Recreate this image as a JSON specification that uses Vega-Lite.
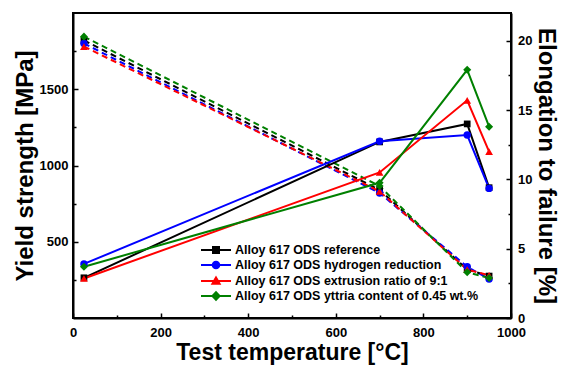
{
  "$schema": "https://vega.github.io/schema/vega-lite/v6.json",
  "width": 438,
  "height": 305,
  "autosize": {"type": "none"},
  "padding": {"left": 73, "top": 13, "right": 51, "bottom": 47},
  "background": "white",
  "config": {
    "view": {"stroke": "black", "strokeWidth": 2},
    "font": "Liberation Sans",
    "axis": {
      "domainColor": "black", "domainWidth": 2,
      "tickColor": "black", "tickWidth": 1.5,
      "labelFont": "Liberation Sans", "labelFontWeight": "bold", "labelFontSize": 13, "labelColor": "black",
      "titleFont": "Liberation Sans", "titleFontWeight": "bold", "titleColor": "black",
      "grid": false, "labelFlush": false
    }
  },
  "data": {
    "values": [
      {"series": "Alloy 617 ODS reference", "T": 25, "ys": 1820, "el": 2.9},
      {"series": "Alloy 617 ODS reference", "T": 700, "ys": 840, "el": 12.7},
      {"series": "Alloy 617 ODS reference", "T": 900, "ys": 318, "el": 14.0},
      {"series": "Alloy 617 ODS reference", "T": 950, "ys": 275, "el": 9.4},
      {"series": "Alloy 617 ODS hydrogen reduction", "T": 25, "ys": 1800, "el": 3.9},
      {"series": "Alloy 617 ODS hydrogen reduction", "T": 700, "ys": 820, "el": 12.75},
      {"series": "Alloy 617 ODS hydrogen reduction", "T": 900, "ys": 336, "el": 13.2},
      {"series": "Alloy 617 ODS hydrogen reduction", "T": 950, "ys": 255, "el": 9.35},
      {"series": "Alloy 617 ODS extrusion ratio of 9:1", "T": 25, "ys": 1780, "el": 2.85},
      {"series": "Alloy 617 ODS extrusion ratio of 9:1", "T": 700, "ys": 830, "el": 10.5},
      {"series": "Alloy 617 ODS extrusion ratio of 9:1", "T": 900, "ys": 318, "el": 15.7},
      {"series": "Alloy 617 ODS extrusion ratio of 9:1", "T": 950, "ys": 280, "el": 12.0},
      {"series": "Alloy 617 ODS yttria content of 0.45 wt.%", "T": 25, "ys": 1845, "el": 3.7},
      {"series": "Alloy 617 ODS yttria content of 0.45 wt.%", "T": 700, "ys": 865, "el": 9.75},
      {"series": "Alloy 617 ODS yttria content of 0.45 wt.%", "T": 900, "ys": 300, "el": 17.9},
      {"series": "Alloy 617 ODS yttria content of 0.45 wt.%", "T": 950, "ys": 262, "el": 13.8}
    ]
  },
  "layer": [
    {
      "encoding": {
        "x": {"field": "T", "type": "quantitative", "scale": {"domain": [0, 1000]},
          "axis": {"title": "Test temperature [°C]", "titleFontSize": 23, "titlePadding": 2,
            "values": [0, 100, 200, 300, 400, 500, 600, 700, 800, 900, 1000],
            "labelExpr": "datum.value % 200 === 0 ? datum.label : ''",
            "format": "d", "labelPadding": 13,
            "tickSize": {"condition": {"test": "datum.value % 200 !== 0", "value": -3}, "value": -5}}},
        "y": {"field": "ys", "type": "quantitative", "scale": {"domain": [0, 2000]},
          "axis": {"orient": "left", "title": "Yield strength [MPa]", "titleFontSize": 24, "titlePadding": 2,
            "values": [250, 500, 750, 1000, 1250, 1500, 1750],
            "labelExpr": "datum.value % 500 === 0 ? datum.label : ''",
            "format": "d", "labelPadding": 10,
            "tickSize": {"condition": {"test": "datum.value % 500 !== 0", "value": -3}, "value": -5}}},
        "color": {"field": "series", "type": "nominal",
          "scale": {"domain": ["Alloy 617 ODS reference", "Alloy 617 ODS hydrogen reduction", "Alloy 617 ODS extrusion ratio of 9:1", "Alloy 617 ODS yttria content of 0.45 wt.%"],
            "range": ["#000000", "#0000ff", "#ff0000", "#008000"]},
          "legend": null}
      },
      "layer": [
        {"mark": {"type": "line", "strokeWidth": 2, "strokeDash": [6, 4]}},
        {"transform": [{"filter": "datum.series === 'Alloy 617 ODS reference'"}], "mark": {"type": "point", "shape": "square", "filled": true, "size": 45, "opacity": 1}},
        {"transform": [{"filter": "datum.series === 'Alloy 617 ODS hydrogen reduction'"}], "mark": {"type": "point", "shape": "circle", "filled": true, "size": 55, "opacity": 1}},
        {"transform": [{"filter": "datum.series === 'Alloy 617 ODS extrusion ratio of 9:1'"}], "mark": {"type": "point", "shape": "triangle-up", "filled": true, "size": 60, "opacity": 1}},
        {"transform": [{"filter": "datum.series === 'Alloy 617 ODS yttria content of 0.45 wt.%'"}], "mark": {"type": "point", "shape": "diamond", "filled": true, "size": 65, "opacity": 1}}
      ]
    },
    {
      "encoding": {
        "x": {"field": "T", "type": "quantitative", "scale": {"domain": [0, 1000]}},
        "y": {"field": "el", "type": "quantitative", "scale": {"domain": [0, 22]},
          "axis": {"orient": "right", "title": "Elongation to failure [%]", "titleFontSize": 24, "titlePadding": 2,
            "values": [0, 2.5, 5, 7.5, 10, 12.5, 15, 17.5, 20],
            "labelExpr": "datum.value % 5 === 0 ? datum.label : ''",
            "format": "d", "labelPadding": 11.5,
            "tickSize": {"condition": {"test": "datum.value % 5 !== 0", "value": -3}, "value": -5}}},
        "color": {"field": "series", "type": "nominal", "legend": null}
      },
      "layer": [
        {"mark": {"type": "line", "strokeWidth": 2}},
        {"transform": [{"filter": "datum.series === 'Alloy 617 ODS reference'"}], "mark": {"type": "point", "shape": "square", "filled": true, "size": 45, "opacity": 1}},
        {"transform": [{"filter": "datum.series === 'Alloy 617 ODS hydrogen reduction'"}], "mark": {"type": "point", "shape": "circle", "filled": true, "size": 55, "opacity": 1}},
        {"transform": [{"filter": "datum.series === 'Alloy 617 ODS extrusion ratio of 9:1'"}], "mark": {"type": "point", "shape": "triangle-up", "filled": true, "size": 60, "opacity": 1}},
        {"transform": [{"filter": "datum.series === 'Alloy 617 ODS yttria content of 0.45 wt.%'"}], "mark": {"type": "point", "shape": "diamond", "filled": true, "size": 65, "opacity": 1}}
      ]
    },
    {
      "mark": {"type": "point", "filled": true, "opacity": 0,
        "fill": {"expr": "scale('color', datum.value)"},
        "stroke": {"expr": "scale('color', datum.value)"},
        "strokeWidth": 2},
      "encoding": {
        "x": {"field": "T", "type": "quantitative", "scale": {"domain": [0, 1000]}},
        "y": {"field": "ys", "type": "quantitative", "scale": {"domain": [0, 2000]}, "axis": null},
        "shape": {"field": "series", "type": "nominal",
          "sort": ["Alloy 617 ODS reference", "Alloy 617 ODS hydrogen reduction", "Alloy 617 ODS extrusion ratio of 9:1", "Alloy 617 ODS yttria content of 0.45 wt.%"],
          "scale": {
            "range": [
              "M-2.5,0H2.5M-0.5,-0.5H0.5V0.5H-0.5Z",
              "M-2.5,0H2.5M-0.55,0A0.55,0.55,0,1,0,0.55,0A0.55,0.55,0,1,0,-0.55,0Z",
              "M-2.5,0H2.5M0,-0.6L0.6,0.45H-0.6Z",
              "M-2.5,0H2.5M0,-0.65L0.6,0L0,0.65L-0.6,0Z"
            ]},
          "legend": {
            "orient": "none", "legendX": 136, "legendY": 230, "title": null, "padding": 0,
            "symbolSize": 144, "symbolOpacity": 1, "symbolStrokeWidth": 2,
            "labelFont": "Liberation Sans", "labelFontSize": 12.5, "labelFontWeight": "bold", "labelColor": "black",
            "labelOffset": 12, "rowPadding": 0, "labelLimit": 400
          }}
      }
    }
  ],
  "resolve": {"scale": {"y": "independent"}}
}
